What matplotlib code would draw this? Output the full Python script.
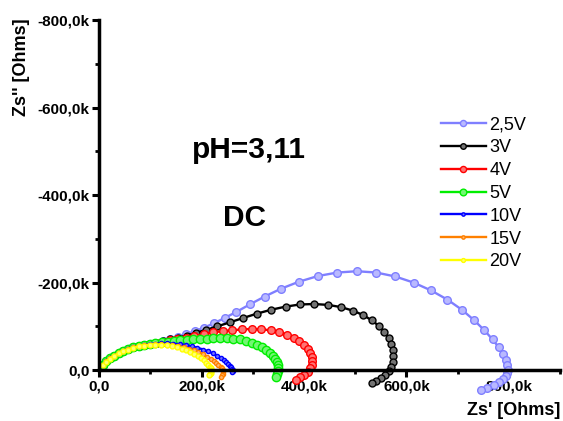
import numpy as np
import matplotlib.pyplot as plt
from matplotlib.ticker import FuncFormatter, MultipleLocator
from matplotlib.colors import to_rgb

plt.rcParams['font.family'] = ['Liberation Sans', 'DejaVu Sans']

# Nyquist data in kOhm: Zs' (real) and -Zs'' (imaginary, positive up)
labels = ['2,5V', '3V', '4V', '5V', '10V', '15V', '20V']
colors = ['#7f7fff', '#000000', '#ff0000', '#00ee00', '#0000ff', '#ff8000', '#ffff00']

zr_25 = [8, 14, 21, 29, 38, 47, 57, 67, 77, 88, 100, 112, 125, 139, 154, 170, 187, 205, 224, 245,
         268, 294, 323, 355, 390, 427, 465, 503, 541, 578, 614, 648, 680, 708, 732, 752, 768, 780,
         788, 794, 797, 798, 797, 794, 788, 780, 770, 758, 745]
zi_25 = [12, 20, 27, 33, 39, 44, 48, 52, 55, 58, 60, 63, 67, 71, 76, 82, 89, 97, 107, 119,
         133, 150, 168, 186, 202, 215, 223, 226, 223, 214, 200, 182, 161, 138, 114, 91, 70, 52,
         37, 23, 11, 1, -7, -14, -21, -28, -35, -41, -46]

zr_3 = [8, 14, 21, 29, 38, 47, 57, 67, 77, 88, 100, 112, 125, 139, 154, 171, 189, 209, 231, 255,
        281, 308, 336, 364, 392, 420, 447, 472, 495, 515, 532, 546, 557, 565, 570, 573, 574, 573,
        570, 565, 558, 550, 541, 532]
zi_3 = [12, 20, 27, 33, 39, 44, 48, 52, 55, 58, 60, 63, 66, 70, 74, 79, 85, 92, 100, 109,
        119, 129, 138, 145, 150, 151, 149, 144, 136, 126, 114, 101, 87, 73, 59, 45, 32, 19,
        7, -3, -12, -19, -25, -30]

zr_4 = [8, 14, 21, 29, 38, 47, 57, 67, 77, 88, 99, 111, 124, 138, 153, 169, 186, 204, 222, 241,
        260, 279, 298, 317, 335, 352, 367, 380, 391, 400, 407, 412, 415, 416, 415, 412, 407, 400,
        392, 384]
zi_4 = [12, 20, 27, 33, 39, 44, 48, 52, 55, 58, 60, 62, 65, 68, 71, 74, 78, 82, 86, 89,
        91, 93, 94, 93, 91, 87, 81, 74, 66, 57, 48, 39, 30, 21, 12, 4, -4, -11, -17, -22]

zr_5 = [8, 14, 21, 29, 38, 47, 57, 67, 77, 88, 99, 110, 122, 134, 146, 158, 171, 184, 197, 210,
        223, 236, 249, 262, 275, 287, 298, 309, 318, 326, 333, 339, 344, 347, 349, 350, 349, 347,
        345]
zi_5 = [12, 20, 27, 33, 39, 44, 48, 52, 55, 58, 60, 62, 64, 65, 67, 68, 69, 70, 71, 72,
        72.5, 73, 73, 72, 70, 67, 63, 58, 52, 46, 39, 32, 25, 18, 11, 4, -3, -9, -15]

zr_10 = [8, 14, 21, 29, 38, 47, 57, 67, 77, 88, 99, 110, 121, 133, 145, 157, 169, 181, 192, 203,
         213, 222, 230, 237, 243, 248, 252, 256, 258, 260, 261, 261, 260]
zi_10 = [12, 20, 27, 33, 39, 44, 48, 52, 55, 57, 59, 60, 61, 61, 60, 59, 57, 54, 51, 47,
         43, 38, 33, 28, 23, 18, 14, 10, 6, 3, 0, -3, -5]

zr_15 = [8, 14, 21, 29, 38, 47, 57, 67, 77, 88, 99, 110, 121, 132, 143, 154, 165, 175, 185, 194,
         203, 211, 218, 224, 229, 233, 237, 240, 242, 242, 241, 239, 237]
zi_15 = [12, 20, 27, 33, 39, 44, 48, 52, 55, 57, 58, 59, 59, 58, 57, 55, 52, 49, 45, 41,
         36, 31, 26, 21, 16, 12, 8, 4, 0, -4, -8, -12, -17]

zr_20 = [8, 14, 21, 29, 38, 47, 57, 67, 77, 88, 99, 110, 121, 132, 142, 152, 161, 170, 178, 186,
         193, 199, 205, 209, 213, 216, 218, 219, 219, 218, 216, 214]
zi_20 = [11, 19, 26, 32, 38, 43, 47, 51, 54, 56, 57.5, 58, 58, 57, 55, 52, 49, 45, 41, 37,
         32, 27, 22, 17, 12, 8, 4, 0, -3, -6, -9, -11]

real_parts = [zr_25, zr_3, zr_4, zr_5, zr_10, zr_15, zr_20]
imag_parts = [zi_25, zi_3, zi_4, zi_5, zi_10, zi_15, zi_20]
marker_sizes = [5.5, 5, 5.5, 6, 3, 3, 3.5]

fig = plt.figure(figsize=(5.63, 4.21), dpi=100)
ax = fig.add_axes([0.176, 0.121, 0.819, 0.831])

for zr, zi, lab, col, ms in zip(real_parts, imag_parts, labels, colors, marker_sizes):
    x = np.array(zr) * 1000
    y = -np.array(zi) * 1000
    face = tuple(0.55 * c + 0.45 for c in to_rgb(col))
    ax.plot(x, y, '-o', color=col, lw=1.7, ms=ms, mfc=face, mec=col, mew=1.0,
            label=lab, clip_on=False)

ax.set_xlim(0, 900000)
ax.set_ylim(0, -800000)

for s in ['top', 'right']:
    ax.spines[s].set_visible(False)
for s in ['left', 'bottom']:
    ax.spines[s].set_linewidth(2.5)

ax.xaxis.set_major_locator(MultipleLocator(200000))
ax.xaxis.set_minor_locator(MultipleLocator(100000))
ax.yaxis.set_major_locator(MultipleLocator(200000))
ax.yaxis.set_minor_locator(MultipleLocator(100000))


def kfmt(v, pos):
    if abs(v) < 1:
        return '0,0'
    return ('%.1fk' % (v / 1000)).replace('.', ',')


ax.xaxis.set_major_formatter(FuncFormatter(kfmt))
ax.yaxis.set_major_formatter(FuncFormatter(kfmt))
ax.tick_params(which='major', length=5, width=2.2, direction='out', labelsize=11, pad=2)
ax.tick_params(which='minor', length=3, width=2, direction='out')
for t in ax.get_xticklabels() + ax.get_yticklabels():
    t.set_fontweight('bold')

fig.text(0.038, 0.957, "Zs'' [Ohms]", rotation=90, ha='center', va='top',
         fontsize=13, fontweight='bold')
fig.text(0.995, 0.026, "Zs' [Ohms]", ha='right', va='center',
         fontsize=13, fontweight='bold')

fig.text(0.341, 0.644, 'pH=3,11', ha='left', va='center', fontsize=21.5, fontweight='bold')
fig.text(0.396, 0.482, 'DC', ha='left', va='center', fontsize=21.5, fontweight='bold')

ax.legend(loc='upper left', bbox_to_anchor=(0.77, 0.74), bbox_transform=fig.transFigure,
          frameon=False, fontsize=13, handlelength=2.5, labelspacing=0.32,
          handletextpad=0.2, borderaxespad=0, markerscale=0.8)

plt.savefig('out.png', dpi=100)
